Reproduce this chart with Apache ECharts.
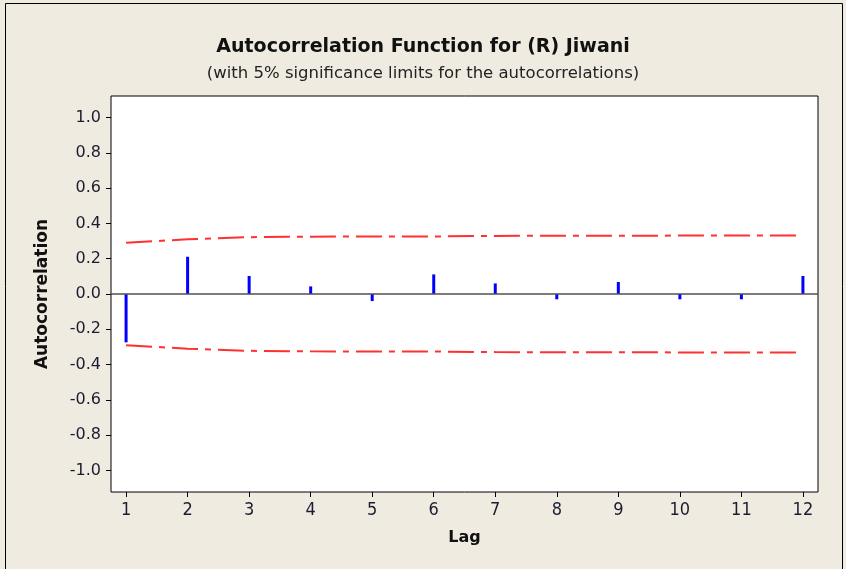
<!DOCTYPE html>
<html><head><meta charset="utf-8">
<script src="https://cdn.jsdelivr.net/npm/echarts@6/dist/echarts.min.js"></script>
<style>html,body{margin:0;padding:0;background:#efebe1;}#c{width:846px;height:569px;}</style>
</head><body><div id="c"></div>
<script>
var lags = [1,2,3,4,5,6,7,8,9,10,11,12];
var acf = [-0.274, 0.211, 0.102, 0.043, -0.040, 0.111, 0.060, -0.030, 0.068, -0.030, -0.030, 0.102];
var upperLimit = [0.290, 0.310, 0.322, 0.325, 0.326, 0.326, 0.329, 0.330, 0.330, 0.331, 0.332, 0.332];
var lowerLimit = upperLimit.map(function(v){return -v;});
var yTicks = [-1.0,-0.8,-0.6,-0.4,-0.2,0.0,0.2,0.4,0.6,0.8,1.0];
var titleText = 'Autocorrelation Function for (R) Jiwani';
var subText = '(with 5% significance limits for the autocorrelations)';

var chart = echarts.init(document.getElementById('c'));
var txt = '#1c1c30';
chart.setOption({
  backgroundColor: '#efebe1',
  animation: false,
  title: [
    {text: titleText, left: 'center', top: 33,
     textStyle: {fontFamily: 'DejaVu Sans, sans-serif', fontWeight: 'bold', fontSize: 19, color: '#111'}},
    {text: subText, left: 'center', top: 60,
     textStyle: {fontFamily: 'DejaVu Sans, sans-serif', fontWeight: 'normal', fontSize: 16.5, color: '#222'}}
  ],
  graphic: [{type: 'rect', shape: {x: 5.5, y: 3.5, width: 837, height: 570}, style: {fill: 'none', stroke: '#000', lineWidth: 1}, silent: true}],
  grid: {left: 111, right: 28, top: 96, bottom: 77, show: true, backgroundColor: '#fff', borderColor: '#000', borderWidth: 1},
  xAxis: {
    type: 'value', min: 0.755, max: 12.245,
    name: 'Lag', nameLocation: 'middle', nameGap: 38,
    nameTextStyle: {fontFamily: 'DejaVu Sans, sans-serif', fontWeight: 'bold', fontSize: 16, color: '#111'},
    axisLine: {show: false, onZero: false},
    splitLine: {show: false},
    axisTick: {show: true, customValues: lags, length: 5, lineStyle: {color: '#000'}},
    axisLabel: {customValues: lags, margin: 9, fontSize: 18, color: txt, fontFamily: 'DejaVu Sans Condensed, sans-serif'}
  },
  yAxis: {
    type: 'value', min: -1.122, max: 1.122,
    name: 'Autocorrelation', nameLocation: 'middle', nameGap: 60, nameRotate: 90,
    nameTextStyle: {fontFamily: 'DejaVu Sans, sans-serif', fontWeight: 'bold', fontSize: 17, color: '#111'},
    axisLine: {show: false, onZero: false},
    splitLine: {show: false},
    axisTick: {show: true, customValues: yTicks, length: 5, lineStyle: {color: '#000'}},
    axisLabel: {customValues: yTicks, margin: 10, fontSize: 16, color: txt, fontFamily: 'DejaVu Sans, sans-serif',
      formatter: function(v){ return (Math.abs(v) < 1e-9 ? 0 : v).toFixed(1); }}
  },
  series: [
    {type: 'bar', data: lags.map(function(l,i){return [l, acf[i]];}), barWidth: 3,
     itemStyle: {color: '#0000ff'}, silent: true,
     markLine: {silent: true, symbol: 'none', label: {show: false},
       lineStyle: {color: '#505050', type: 'solid', width: 1.5},
       data: [{yAxis: 0}]}},
    {type: 'line', data: lags.map(function(l,i){return [l, upperLimit[i]];}), symbol: 'none',
     lineStyle: {color: '#ff3030', width: 2, type: [26,7,6,7]}, silent: true},
    {type: 'line', data: lags.map(function(l,i){return [l, lowerLimit[i]];}), symbol: 'none',
     lineStyle: {color: '#ff3030', width: 2, type: [26,7,6,7]}, silent: true}
  ]
});
</script></body></html>
